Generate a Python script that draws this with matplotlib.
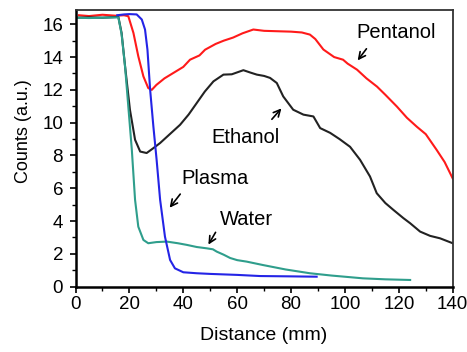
import matplotlib
matplotlib.use("Agg")
import matplotlib.pyplot as plt
from matplotlib.ticker import MultipleLocator

plt.rcParams['font.family'] = ['Liberation Sans', 'DejaVu Sans']

# Pentanol (red)
pentanol_x = [1.3, 5, 10, 15, 18, 19.6, 21.5, 23.3, 25.2, 27.0, 28.3, 30, 33, 36.3, 40, 42.5,
              46, 48.1, 52, 55, 58.5, 62, 66, 70, 75.9, 80, 84, 87, 89, 92, 96, 99.3, 101,
              104.5, 108, 111.9, 115, 119.3, 123, 126.7, 130, 134, 137, 140]
pentanol_y = [16.55, 16.5, 16.58, 16.52, 16.55, 16.49, 15.47, 14.05, 12.82, 12.11, 12.0, 12.3,
              12.7, 13.03, 13.4, 13.84, 14.1, 14.45, 14.8, 15.0, 15.19, 15.45, 15.68, 15.6,
              15.57, 15.55, 15.5, 15.37, 15.1, 14.46, 14.0, 13.84, 13.6, 13.23, 12.7, 12.2,
              11.7, 10.98, 10.3, 9.75, 9.3, 8.35, 7.6, 6.6]

# Ethanol (black)
ethanol_x = [0, 5, 10, 15.9, 17.1, 18.4, 20.2, 22.1, 24.0, 26.4, 28.5, 31.4, 35, 38.8, 42, 45,
             48, 51.2, 54.9, 58, 61.1, 62.3, 65, 67.3, 70, 72.2, 74.7, 77.1, 80.8, 84.6, 88.3,
             90.8, 94.5, 98, 101.9, 105.6, 109.3, 111.8, 115, 118, 121.7, 124.2, 127.9,
             131.6, 135.3, 140]
ethanol_y = [16.4, 16.42, 16.4, 16.45, 15.47, 13.43, 10.79, 8.96, 8.24, 8.15, 8.4, 8.76, 9.3,
             9.87, 10.5, 11.2, 11.9, 12.52, 12.93, 12.95, 13.13, 13.2, 13.05, 12.93, 12.85,
             12.73, 12.42, 11.6, 10.79, 10.49, 10.38, 9.67, 9.38, 9.0, 8.53, 7.74, 6.72,
             5.7, 5.1, 4.68, 4.18, 3.87, 3.36, 3.1, 2.95, 2.65]

# Plasma (blue)
plasma_x = [15.5, 18, 20, 22.7, 24.6, 25.8, 26.7, 27.7, 28.9, 30.1, 31.4, 33.2, 35.1, 36.9,
            40, 45, 50, 60, 68.5, 80, 89.5]
plasma_y = [16.55, 16.6, 16.62, 16.6, 16.29, 15.68, 14.45, 12.0, 9.77, 7.74, 5.3, 3.05, 1.63,
            1.12, 0.88, 0.82, 0.78, 0.72, 0.65, 0.63, 0.61]

# Water (teal)
water_x = [0, 5, 10, 15.9, 17.1, 18.4, 20.9, 22.1, 23.3, 25.2, 27.0, 30, 33.9, 38, 41.3, 45,
           48.7, 51, 52.4, 55, 57.4, 60, 63.5, 69.6, 78, 87, 95, 106.7, 115, 124.2]
water_y = [16.4, 16.38, 16.4, 16.42, 15.4, 13.4, 8.35, 5.3, 3.66, 2.85, 2.65, 2.72, 2.75,
           2.65, 2.55, 2.42, 2.34, 2.28, 2.14, 1.95, 1.75, 1.62, 1.53, 1.32, 1.05, 0.82,
           0.68, 0.51, 0.45, 0.41]

x_ticks = [0, 20, 40, 60, 80, 100, 120, 140]
y_ticks = [0, 2, 4, 6, 8, 10, 12, 14, 16]

fig = plt.figure(figsize=(4.67, 3.52), dpi=100)
ax = fig.add_axes([0.1617, 0.1855, 0.8077, 0.7875])

ax.plot(pentanol_x, pentanol_y, color='#ff1a1a', lw=1.5)
ax.plot(ethanol_x, ethanol_y, color='#222222', lw=1.5)
ax.plot(water_x, water_y, color='#2f9e8c', lw=1.5)
ax.plot(plasma_x, plasma_y, color='#2424e6', lw=1.5)

ax.set_xlim(0, 140)
ax.set_ylim(0, 16.9)
ax.set_xticks(x_ticks)
ax.set_yticks(y_ticks)
ax.xaxis.set_minor_locator(MultipleLocator(10))
ax.yaxis.set_minor_locator(MultipleLocator(1))
ax.tick_params(which='major', direction='out', length=4, width=1.2, labelsize=13.5, pad=3)
ax.tick_params(axis='y', which='major', pad=5)
ax.tick_params(which='minor', direction='out', length=3, width=1.0)
for side in ['left', 'bottom']:
    ax.spines[side].set_linewidth(1.8)
for side in ['top', 'right']:
    ax.spines[side].set_linewidth(1.3)
    ax.spines[side].set_color('#333333')

ax.set_xlabel('Distance (mm)', fontsize=14, labelpad=10)
ax.set_ylabel('Counts (a.u.)', fontsize=13)
ax.yaxis.set_label_coords(-0.115, 0.56)

arrow_kw = dict(arrowstyle='->', color='black', lw=1.2, mutation_scale=12)
ax.text(119, 15.5, 'Pentanol', fontsize=14.5, ha='center', va='center')
ax.annotate('', xy=(104.1, 13.66), xytext=(108.6, 14.64), arrowprops=arrow_kw)
ax.text(63.2, 9.11, 'Ethanol', fontsize=14.5, ha='center', va='center')
ax.annotate('', xy=(77.1, 11.0), xytext=(72.2, 10.08), arrowprops=arrow_kw)
ax.text(51.8, 6.58, 'Plasma', fontsize=14.5, ha='center', va='center')
ax.annotate('', xy=(34.3, 4.68), xytext=(39.5, 5.78), arrowprops=arrow_kw)
ax.text(63.5, 4.07, 'Water', fontsize=14.5, ha='center', va='center')
ax.annotate('', xy=(48.8, 2.42), xytext=(52.5, 3.46), arrowprops=arrow_kw)

fig.savefig('out.png', dpi=100)
